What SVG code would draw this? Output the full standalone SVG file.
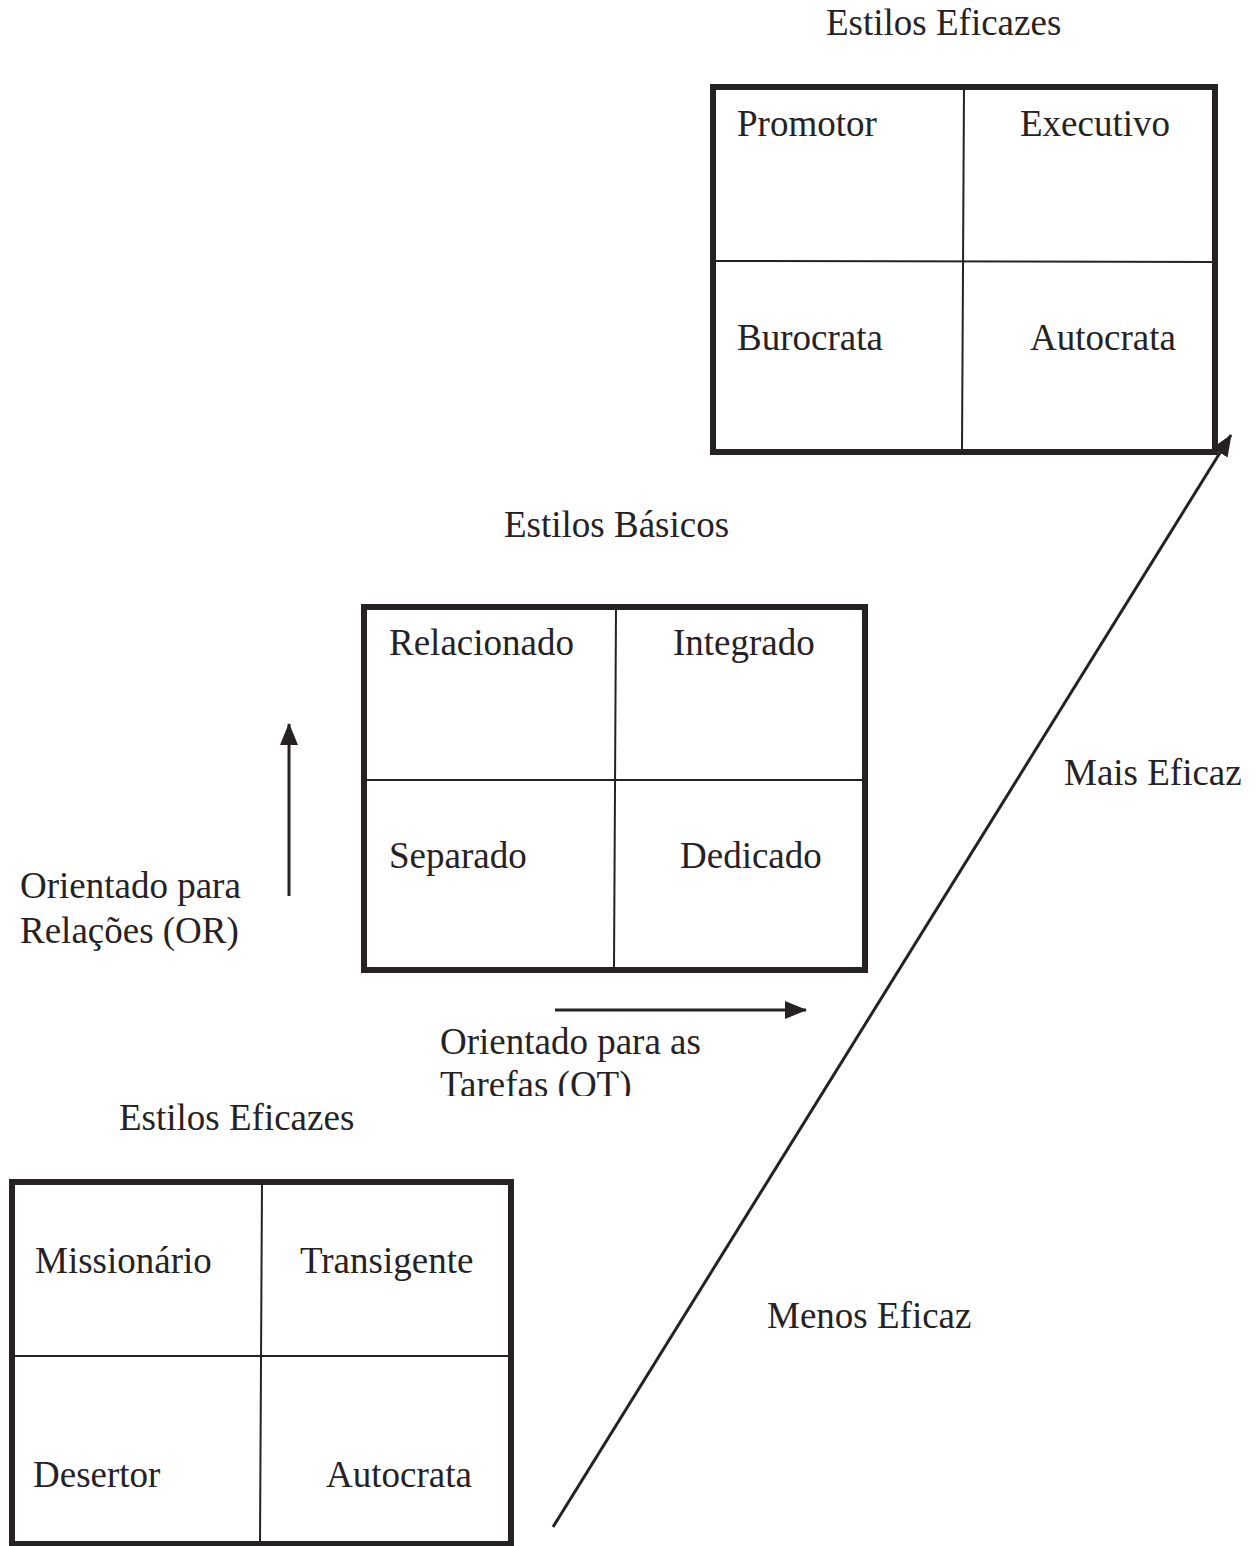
<svg xmlns="http://www.w3.org/2000/svg" width="1258" height="1546" viewBox="0 0 1258 1546">
<style>
text{font-family:"Liberation Serif","Times New Roman",serif;font-size:37px;fill:#262224}
.box{fill:none;stroke:#262224;stroke-width:6}
.div{stroke:#262224;stroke-width:2;fill:none}
.conn{stroke:#262224;stroke-width:3;fill:none}
</style>
<defs>
<marker id="ah" viewBox="0 0 22 18" refX="21" refY="9" markerWidth="22" markerHeight="18" markerUnits="userSpaceOnUse" orient="auto">
<path d="M0,0 L22,9 L0,18 z" fill="#262224"/>
</marker>
<clipPath id="clipOT"><rect x="0" y="0" width="1258" height="1096"/></clipPath>
</defs>
<rect width="1258" height="1546" fill="#ffffff"/>

<g id="estilos-eficazes-top">
<text x="826" y="35">Estilos Eficazes</text>
<rect class="box" x="713" y="87" width="502" height="365"/>
<line class="div" x1="964" y1="87" x2="962" y2="452"/>
<line class="div" x1="713" y1="261" x2="1215" y2="262"/>
<text x="737" y="136">Promotor</text>
<text x="1020" y="136">Executivo</text>
<text x="737" y="350">Burocrata</text>
<text x="1030" y="350">Autocrata</text>
</g>

<g id="estilos-basicos">
<text x="504" y="537">Estilos Básicos</text>
<rect class="box" x="364" y="607" width="501" height="363"/>
<line class="div" x1="616" y1="607" x2="614" y2="970"/>
<line class="div" x1="364" y1="780" x2="865" y2="780"/>
<text x="389" y="655">Relacionado</text>
<text x="673" y="655">Integrado</text>
<text x="389" y="868">Separado</text>
<text x="680" y="868">Dedicado</text>
</g>

<g id="eixo-or">
<text x="20" y="898">Orientado para</text>
<text x="20" y="943">Relações (OR)</text>
</g>

<g id="eixo-ot" clip-path="url(#clipOT)">
<text x="440" y="1054">Orientado para as</text>
<text x="440" y="1097">Tarefas (OT)</text>
</g>

<g id="estilos-eficazes-bottom">
<text x="119" y="1130">Estilos Eficazes</text>
<rect class="box" x="12" y="1182" width="499" height="362"/>
<line class="div" x1="262" y1="1182" x2="260" y2="1544"/>
<line class="div" x1="12" y1="1356" x2="511" y2="1356"/>
<text x="35" y="1273">Missionário</text>
<text x="300" y="1273">Transigente</text>
<text x="33" y="1487">Desertor</text>
<text x="326" y="1487">Autocrata</text>
</g>

<g id="mais-eficaz"><text x="1064" y="785">Mais Eficaz</text></g>
<g id="menos-eficaz"><text x="767" y="1328">Menos Eficaz</text></g>

<g id="connectors">
<line class="conn" x1="289" y1="896" x2="289" y2="724" marker-end="url(#ah)"/>
<line class="conn" x1="555" y1="1010" x2="806" y2="1010" marker-end="url(#ah)"/>
<line class="conn" x1="553" y1="1527" x2="1231" y2="435" marker-end="url(#ah)"/>
</g>
</svg>
